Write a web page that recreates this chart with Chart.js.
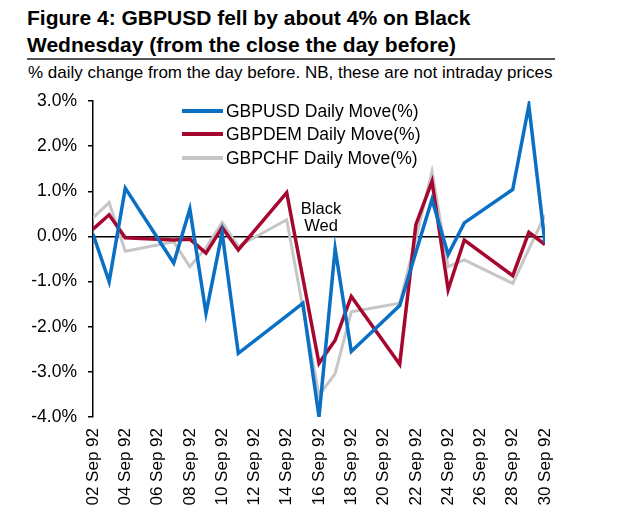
<!DOCTYPE html>
<html>
<head>
<meta charset="utf-8">
<script src="https://cdn.jsdelivr.net/npm/chart.js@4"></script>
<style>
  html, body { margin: 0; padding: 0; background: #fff; }
  #wrap { position: relative; width: 640px; height: 525px; font-family: "Liberation Sans", Arial, sans-serif; }
  #title { position: absolute; left: 27px; top: 4px; font-weight: bold; font-size: 21px; line-height: 27px; color: #000; }
  #rule { position: absolute; left: 27px; top: 58px; width: 528px; height: 2px; background: #555; }
  #sub { position: absolute; left: 28px; top: 63px; font-size: 17px; line-height: 20px; color: #000; }
  canvas { position: absolute; left: 0; top: 0; }
</style>
</head>
<body>
<div id="wrap">
  <div id="title">Figure 4: GBPUSD fell by about 4% on Black<br>Wednesday (from the close the day before)</div>
  <div id="rule"></div>
  <div id="sub">% daily change from the day before. NB, these are not intraday prices</div>
  <canvas id="chart" width="640" height="525"></canvas>
</div>
<script>
// trading days in Sep 1992 (day of month)
const days = [2, 3, 4, 7, 8, 9, 10, 11, 14, 15, 16, 17, 18, 21, 22, 23, 24, 25, 28, 29, 30];

const usd = [0.05, -1.00, 1.07, -0.59, 0.61, -1.70, 0.08, -2.59, -1.76, -1.48, -4.00, -0.27, -2.55, -1.53, -0.35, 0.82, -0.40, 0.30, 1.04, 2.90, -0.15];
const dem = [0.16, 0.48, -0.03, -0.08, -0.06, -0.37, 0.20, -0.30, 0.97, -0.92, -2.81, -2.30, -1.33, -2.83, 0.26, 1.22, -1.18, -0.08, -0.87, 0.09, -0.18];
const chf = [0.41, 0.75, -0.33, -0.12, -0.67, -0.25, 0.31, -0.22, 0.37, -1.58, -3.52, -3.04, -1.67, -1.48, -0.05, 1.44, -0.67, -0.52, -1.04, -0.28, 0.47];

const seriesNames = ['GBPUSD Daily Move(%)', 'GBPDEM Daily Move(%)', 'GBPCHF Daily Move(%)'];
const xTicks = [2, 4, 6, 8, 10, 12, 14, 16, 18, 20, 22, 24, 26, 28, 30];
const yTicks = [3, 2, 1, 0, -1, -2, -3, -4];

const FONT = '"Liberation Sans", Arial, sans-serif';
const C = { usd: '#0A70C4', dem: '#A6072F', chf: '#C6C6C6' };

const pts = (vals) => vals.map((v, i) => ({ x: days[i], y: v }));

// legend drawn inside the plot, top
const innerLegend = {
  id: 'innerLegend',
  afterDraw(chart) {
    const ctx = chart.ctx;
    ctx.save();
    ctx.font = '17.5px ' + FONT;
    ctx.fillStyle = '#000';
    ctx.textBaseline = 'middle';
    const rows = [111, 134, 158];
    [0, 1, 2].forEach((i) => {
      const ds = chart.data.datasets[i];
      ctx.strokeStyle = ds.borderColor;
      ctx.lineWidth = 4;
      ctx.beginPath();
      ctx.moveTo(182, rows[i]);
      ctx.lineTo(223, rows[i]);
      ctx.stroke();
      ctx.fillText(ds.label, 226, rows[i] + 1);
    });
    // "Black Wed" note
    const x = chart.scales.x.getPixelForValue(16);
    ctx.textAlign = 'center';
    ctx.font = '16.5px ' + FONT;
    ctx.fillText('Black', x + 2, chart.scales.y.getPixelForValue(0.59));
    ctx.fillText('Wed', x + 2, chart.scales.y.getPixelForValue(0.21));
    ctx.restore();
  },
};

new Chart(document.getElementById('chart'), {
  type: 'line',
  data: {
    datasets: [
      { label: seriesNames[0], data: pts(usd), borderColor: C.usd, borderWidth: 3.5, order: 0 },
      { label: seriesNames[1], data: pts(dem), borderColor: C.dem, borderWidth: 3.5, order: 1 },
      { label: seriesNames[2], data: pts(chf), borderColor: C.chf, borderWidth: 3, order: 2 },
    ],
  },
  options: {
    responsive: false,
    animation: false,
    elements: { point: { radius: 0 }, line: { tension: 0 } },
    layout: { padding: { left: 0, top: 101, right: 95, bottom: 0 } },
    plugins: { legend: { display: false }, tooltip: { enabled: false } },
    scales: {
      x: {
        type: 'linear',
        min: 2,
        max: 30,
        afterFit: (s) => { s.height = 108; },
        afterBuildTicks: (s) => { s.ticks = xTicks.map((v) => ({ value: v })); },
        grid: { display: false, drawTicks: false },
        border: { display: false },
        ticks: {
          minRotation: 90,
          maxRotation: 90,
          padding: 11,
          color: '#000',
          font: { family: FONT, size: 17 },
          callback: (v) => String(v).padStart(2, '0') + ' Sep 92',
        },
      },
      y: {
        min: -4,
        max: 3,
        afterFit: (s) => { s.width = 93; },
        afterBuildTicks: (s) => { s.ticks = yTicks.map((v) => ({ value: v })); },
        border: { display: true, color: '#000', width: 1.5 },
        grid: {
          color: (c) => (c.tick && c.tick.value === 0 ? '#000' : 'rgba(0,0,0,0)'),
          lineWidth: 1.5,
          tickColor: '#000',
          tickLength: 5,
          drawTicks: true,
        },
        ticks: {
          padding: 11,
          color: '#000',
          font: { family: FONT, size: 17.5 },
          callback: (v) => v.toFixed(1) + '%',
        },
      },
    },
  },
  plugins: [innerLegend],
});
</script>
</body>
</html>
